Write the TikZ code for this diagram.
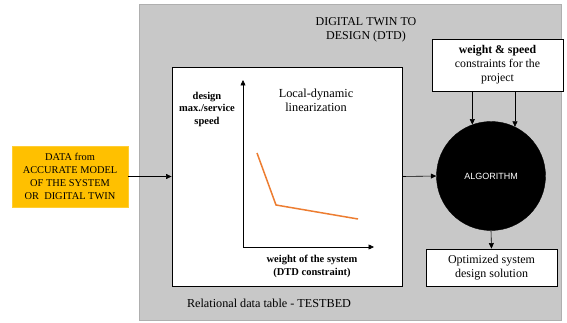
\documentclass[tikz,border=0pt]{standalone}
\usepackage{fontspec}
\setmainfont{Liberation Serif}
\newfontfamily\arialfont{Liberation Sans}
\usetikzlibrary{arrows.meta}
\definecolor{boxgray}{RGB}{200,200,200}
\definecolor{edgegray}{RGB}{175,175,175}
\definecolor{dataorange}{RGB}{255,192,0}
\definecolor{lineorange}{RGB}{237,125,49}
\tikzset{
  arr/.style={-{Triangle[length=5.5pt,width=5pt]}, line width=0.6pt},
  whitebox/.style={draw=black, line width=0.9pt, fill=white, rectangle, inner sep=0pt, align=center},
}
\begin{document}
\begin{tikzpicture}[x=1pt,y=-1pt]
\useasboundingbox (0,0) rectangle (567,323);
% big gray panel
\node[draw=edgegray, fill=boxgray, line width=0.8pt, minimum width=422pt, minimum height=316pt, inner sep=0pt] (panel) at (350,162) {};
% title
\node[align=center, font=\fontsize{12}{13.5}\selectfont] (title) at (366,30) {DIGITAL TWIN TO\\DESIGN (DTD)};
% data box
\node[draw=dataorange!80!white, fill=dataorange, minimum width=116pt, minimum height=61pt, inner sep=0pt, align=center, font=\fontsize{10.4}{13}\selectfont] (data) at (70,176.5) {DATA from\\ACCURATE MODEL\\OF THE SYSTEM\\OR\ \ DIGITAL TWIN};
% white testbed box
\node[whitebox, minimum width=230pt, minimum height=219pt] (tb) at (287,176.5) {};
% axes
\coordinate (orig) at (243,247);
\coordinate (ytop) at (243,80);
\coordinate (xend) at (374,247);
\draw[arr] (orig) -- (ytop);
\draw[arr] (orig) -- (xend);
\node[align=center, font=\bfseries\fontsize{10.5}{12.5}\selectfont] (ylab) at (207,109) {design\\max./service\\speed};
\node[align=center, font=\bfseries\fontsize{10.5}{13}\selectfont] (xlab) at (312,266.5) {weight of the system\\(DTD constraint)};
\node[align=center, font=\fontsize{12.3}{14}\selectfont] (ldl) at (316,100) {Local-dynamic\\linearization};
% orange curve
\coordinate (p1) at (257,153);
\coordinate (p2) at (276,205);
\coordinate (p3) at (358,219);
\draw[lineorange, line width=1.5pt] (p1) -- (p2) -- (p3);
% relational label
\node[font=\fontsize{12.2}{14}\selectfont] (rel) at (269,303) {Relational data table - TESTBED};
% constraints box
\node[whitebox, minimum width=131pt, minimum height=52pt, font=\fontsize{11.8}{14}\selectfont] (cons) at (497.5,65) {\textbf{weight \& speed}\\constraints for the\\project};
% algorithm circle
\node[circle, fill=black, draw=black, minimum size=109pt, inner sep=0pt, text=white, font=\arialfont\fontsize{9}{10}\selectfont] (alg) at (491,176) {ALGORITHM};
% optimized box
\node[whitebox, minimum width=131pt, minimum height=37pt, font=\fontsize{12}{14}\selectfont] (opt) at (491.5,267.5) {Optimized system\\design solution};
% connectors
\draw[arr] (data.east) -- (tb.west);
\draw[arr] (tb.east) -- (alg.west);
\draw[arr] (cons.south -| alg.110) -- (alg.110);
\draw[arr] (cons.south -| alg.64) -- (alg.64);
\draw[arr] (alg.south) -- (opt.north);
\end{tikzpicture}
\end{document}
